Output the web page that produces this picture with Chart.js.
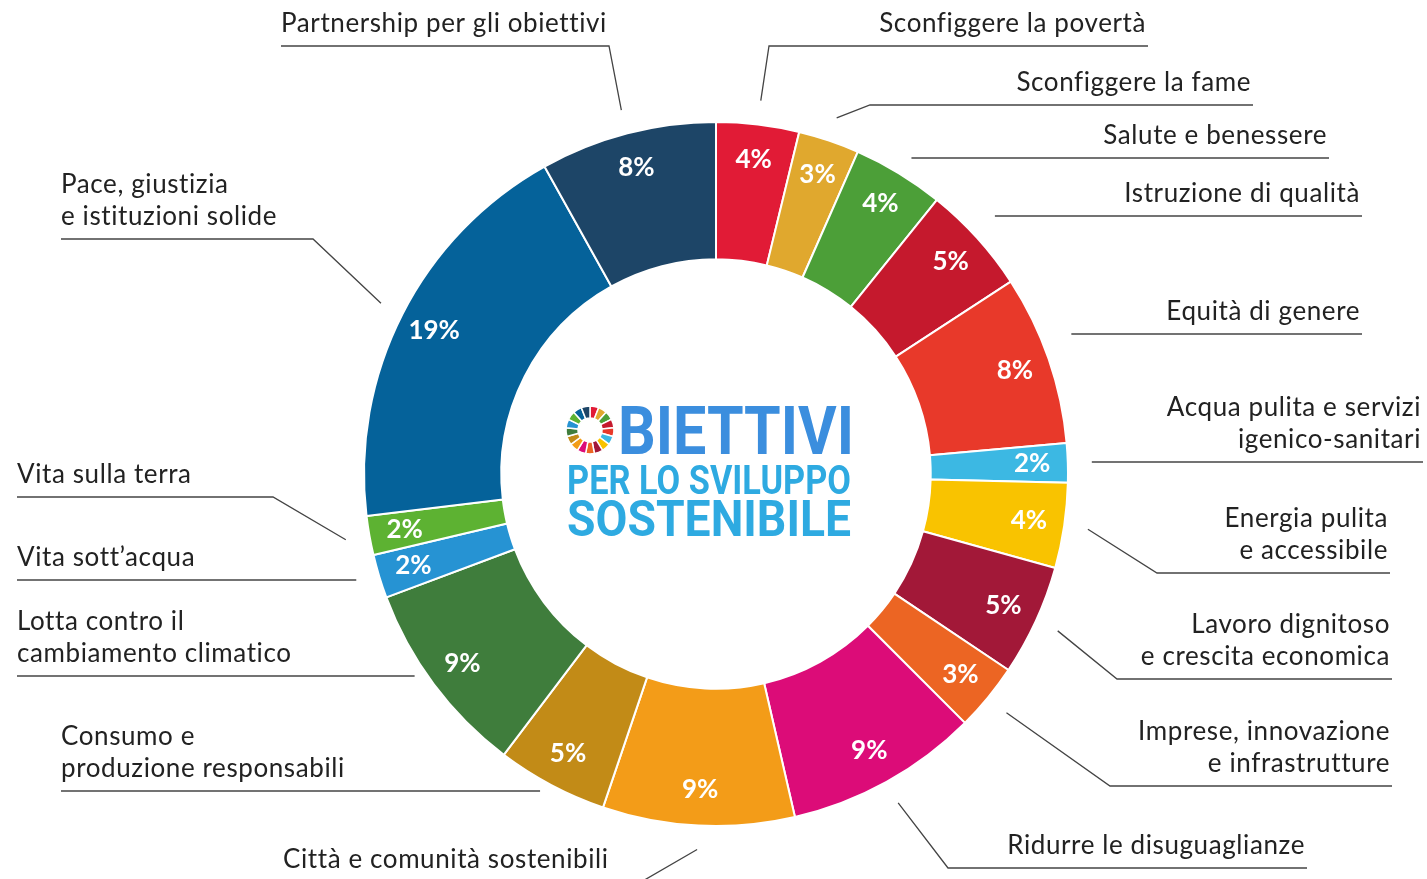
<!DOCTYPE html>
<html lang="it">
<head>
<meta charset="utf-8">
<title>Obiettivi per lo sviluppo sostenibile</title>
<script src="https://cdn.jsdelivr.net/npm/chart.js@4/dist/chart.umd.min.js"></script>
<style>
  html, body { margin: 0; padding: 0; background: #fff; }
  canvas { display: block; }
</style>
</head>
<body>
<canvas id="sdgChart" width="1427" height="879"></canvas>
<script>
// goals, clockwise from the top
const goalNames = [
  'Sconfiggere la povertà',
  'Sconfiggere la fame',
  'Salute e benessere',
  'Istruzione di qualità',
  'Equità di genere',
  'Acqua pulita e servizi\nigenico-sanitari',
  'Energia pulita\ne accessibile',
  'Lavoro dignitoso\ne crescita economica',
  'Imprese, innovazione\ne infrastrutture',
  'Ridurre le disuguaglianze',
  'Città e comunità sostenibili',
  'Consumo e\nproduzione responsabili',
  'Lotta contro il\ncambiamento climatico',
  'Vita sott’acqua',
  'Vita sulla terra',
  'Pace, giustizia\ne istituzioni solide',
  'Partnership per gli obiettivi'
];

// share of each goal (%)
const shares = [3.8, 2.8, 4.2, 5.0, 7.8, 1.8, 3.9, 5.1, 3.1, 8.9, 8.8, 5.1, 9.0, 2.0, 1.8, 18.8, 8.1];

const goalColors = [
  '#E11B36', '#E0A82E', '#4C9F38', '#C5192D', '#E8392A', '#3CB8E3',
  '#F9C300', '#A21838', '#EC6523', '#DC0C78', '#F39C18', '#C28B17',
  '#3F7D3C', '#2693D3', '#5DB232', '#05629A', '#1D4567'
];

// where each callout sits: y of its rule, x of the elbow (null = straight), far end of the rule
const calloutLayout = [
  { y: 46,  elbow: 769,  end: 1148 },
  { y: 105, elbow: 870,  end: 1253 },
  { y: 158, elbow: null, end: 1329 },
  { y: 216, elbow: null, end: 1362 },
  { y: 334, elbow: null, end: 1362 },
  { y: 462, elbow: null, end: 1423 },
  { y: 573, elbow: 1157, end: 1390 },
  { y: 679, elbow: 1117, end: 1392 },
  { y: 786, elbow: 1110, end: 1392 },
  { y: 868, elbow: 948,  end: 1307 },
  { y: 882, elbow: 641,  end: 283 },
  { y: 791, elbow: null, end: 61 },
  { y: 676, elbow: null, end: 17 },
  { y: 580, elbow: null, end: 17 },
  { y: 497, elbow: 273,  end: 17 },
  { y: 239, elbow: 313,  end: 61 },
  { y: 46,  elbow: 609,  end: 281 }
];

function drawFitted(ctx, text, x, baseline, size, width, color) {
  ctx.save();
  ctx.font = '700 ' + size + 'px Roboto';
  ctx.fillStyle = color;
  ctx.textAlign = 'left';
  ctx.textBaseline = 'alphabetic';
  const w = ctx.measureText(text).width;
  ctx.translate(x, baseline);
  ctx.scale(width / w, 1);
  ctx.fillText(text, 0, 0);
  ctx.restore();
}

const calloutPlugin = {
  id: 'callouts',
  afterDatasetsDraw(chart) {
    const ctx = chart.ctx;
    const meta = chart.getDatasetMeta(0);
    let cx = 0, cy = 0;

    meta.data.forEach((arc, i) => {
      const p = arc.getProps(['x', 'y', 'startAngle', 'endAngle', 'innerRadius', 'outerRadius'], true);
      cx = p.x; cy = p.y;
      const mid = (p.startAngle + p.endAngle) / 2;

      // percent inside the ring
      const rl = p.innerRadius + (p.outerRadius - p.innerRadius) * 0.74;
      ctx.save();
      ctx.fillStyle = '#fff';
      ctx.font = '700 26px Lato';
      ctx.textAlign = 'center';
      ctx.textBaseline = 'middle';
      ctx.fillText(Math.round(shares[i]) + '%', p.x + Math.cos(mid) * rl, p.y + Math.sin(mid) * rl);
      ctx.restore();

      // leader line
      const L = calloutLayout[i];
      const sx = p.x + Math.cos(mid) * (p.outerRadius + 24);
      const sy = p.y + Math.sin(mid) * (p.outerRadius + 24);
      ctx.save();
      ctx.strokeStyle = '#444';
      ctx.lineWidth = 1.3;
      ctx.beginPath();
      if (L.elbow === null) {
        ctx.moveTo(sx, L.y);
        ctx.lineTo(L.end, L.y);
      } else {
        ctx.moveTo(sx, sy);
        ctx.lineTo(L.elbow, L.y);
        ctx.lineTo(L.end, L.y);
      }
      ctx.stroke();

      // label text above the rule
      const leftSide = L.end < sx;
      const lines = goalNames[i].split('\n');
      ctx.fillStyle = '#222';
      ctx.font = '400 26px Lato';
      ctx.letterSpacing = '0.6px';
      ctx.textBaseline = 'middle';
      ctx.textAlign = leftSide ? 'left' : 'right';
      const tx = leftSide ? L.end : L.end - 2;
      lines.forEach((t, k) => {
        ctx.fillText(t, tx, L.y - 22 - (lines.length - 1 - k) * 32);
      });
      ctx.restore();
    });

    // logo in the hole: SDG wheel + title
    const wx = cx - 126, wy = cy - 44, ro = 24, ri = 12;
    const step = Math.PI * 2 / goalColors.length;
    ctx.save();
    goalColors.forEach((c, k) => {
      const a0 = -Math.PI / 2 + k * step, a1 = a0 + step;
      ctx.beginPath();
      ctx.arc(wx, wy, ro, a0, a1);
      ctx.arc(wx, wy, ri, a1, a0, true);
      ctx.closePath();
      ctx.fillStyle = c;
      ctx.fill();
      ctx.strokeStyle = '#fff';
      ctx.lineWidth = 1.5;
      ctx.stroke();
    });
    ctx.restore();

    drawFitted(ctx, 'BIETTIVI', cx - 98, cy - 20, 66, 236, '#3B8EDE');
    drawFitted(ctx, 'PER LO SVILUPPO', cx - 149, cy + 20, 40, 284, '#2EAAE1');
    drawFitted(ctx, 'SOSTENIBILE', cx - 149, cy + 62, 50, 284, '#2EAAE1');
  }
};

new Chart(document.getElementById('sdgChart'), {
  type: 'doughnut',
  data: {
    labels: goalNames.map(n => n.replace('\n', ' ')),
    datasets: [{
      data: shares,
      backgroundColor: goalColors,
      borderColor: '#fff',
      borderWidth: 2
    }]
  },
  options: {
    responsive: false,
    animation: false,
    cutout: '61%',
    layout: { padding: { left: 363, right: 358, top: 121, bottom: 52 } },
    plugins: {
      legend: { display: false },
      tooltip: { enabled: false }
    }
  },
  plugins: [calloutPlugin]
});
</script>
</body>
</html>
